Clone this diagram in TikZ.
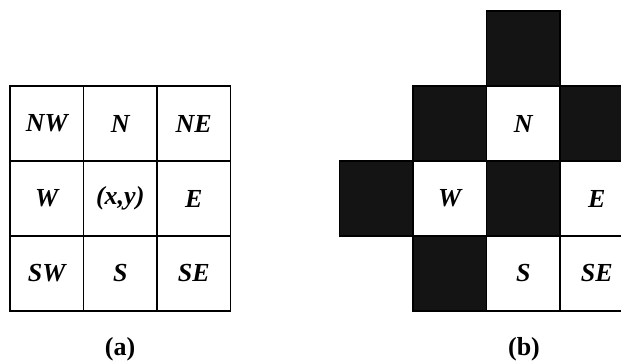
\documentclass[tikz,border=0pt]{standalone}
\usepackage{fontspec}
\setmainfont{Liberation Serif}
\begin{document}
\begin{tikzpicture}[x=1pt,y=-1pt,
  cellfont/.style={font=\fontsize{26}{30}\selectfont\bfseries\itshape},
  cell/.style={draw=black, line width=1.3pt, minimum width=73.5pt, minimum height=75pt, inner sep=0pt, cellfont},
  dark/.style={cell, fill=black!92},
  caption/.style={font=\fontsize{26}{30}\selectfont\bfseries, anchor=base}]
\useasboundingbox (0,0) rectangle (621,363);
% (a) grid
\node[cell] (nw) at (46.75,123.5) {NW};
\node[cell] (n)  at (120.25,123.5) {N};
\node[cell] (ne) at (193.75,123.5) {NE};
\node[cell] (w)  at (46.75,198.5) {W};
\node[cell] (c)  at (120.25,198.5) {(x,y)};
\node[cell] (e)  at (193.75,198.5) {E};
\node[cell] (sw) at (46.75,273.5) {SW};
\node[cell] (s)  at (120.25,273.5) {S};
\node[cell] (se) at (193.75,273.5) {SE};
% (b) grid
\node[dark] (bt)  at (523.25,48.5) {};
\node[dark] (bnw) at (449.75,123.5) {};
\node[cell] (bn)  at (523.25,123.5) {N};
\node[dark] (bne) at (596.75,123.5) {};
\node[dark] (bww) at (376.25,198.5) {};
\node[cell] (bw)  at (449.75,198.5) {W};
\node[dark] (bc)  at (523.25,198.5) {};
\node[cell] (be)  at (596.75,198.5) {E};
\node[dark] (bsw) at (449.75,273.5) {};
\node[cell] (bs)  at (523.25,273.5) {S};
\node[cell] (bse) at (596.75,273.5) {SE};
% captions
\node[caption] (capa) at (120,355) {(a)};
\node[caption] (capb) at (524,355) {(b)};
\end{tikzpicture}
\end{document}
